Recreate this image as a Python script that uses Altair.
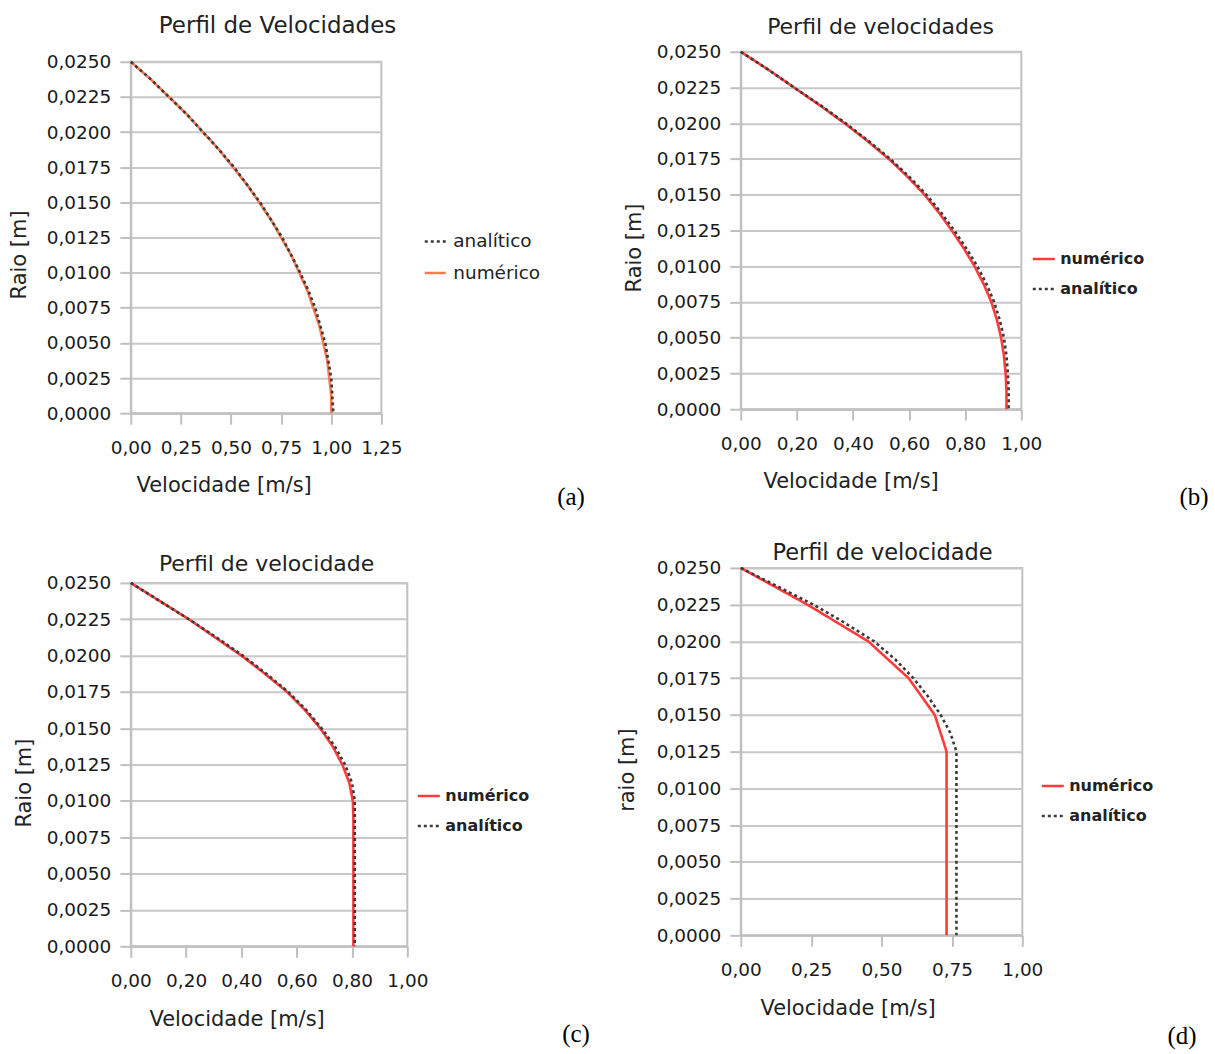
import altair as alt
import pandas as pd

# ---------------- data ----------------
R_FINE = [0.025, 0.02375, 0.0225, 0.02125, 0.02, 0.01875, 0.0175, 0.01625, 0.015,
          0.01375, 0.0125, 0.01125, 0.01, 0.00875, 0.0075, 0.00625, 0.005, 0.00375,
          0.0025, 0.00125, 0.0]
R_COARSE = [0.025, 0.0225, 0.02, 0.0175, 0.015, 0.0125, 0.01, 0.0075, 0.005, 0.0025, 0.0]

# (a)
NUM_A = [0.00, 0.10, 0.19, 0.28, 0.36, 0.44, 0.51, 0.58, 0.64, 0.70, 0.75, 0.80, 0.84,
         0.88, 0.91, 0.94, 0.96, 0.98, 0.99, 1.00, 1.00]
ANA_A = [0.00, 0.10, 0.19, 0.28, 0.36, 0.44, 0.515, 0.58, 0.645, 0.70, 0.755, 0.80, 0.845,
         0.885, 0.92, 0.945, 0.97, 0.985, 1.00, 1.005, 1.01]
# (b)
NUM_B = [0.00, 0.098, 0.19, 0.282, 0.37, 0.452, 0.528, 0.595, 0.655, 0.706, 0.752, 0.795, 0.833,
         0.866, 0.893, 0.913, 0.928, 0.938, 0.944, 0.947, 0.947]
ANA_B = [0.00, 0.098, 0.19, 0.285, 0.374, 0.456, 0.533, 0.601, 0.662, 0.714, 0.761, 0.804, 0.843,
         0.876, 0.903, 0.923, 0.938, 0.947, 0.952, 0.955, 0.955]
# (c)
NUM_C = [0.00, 0.105, 0.21, 0.305, 0.40, 0.485, 0.565, 0.63, 0.685, 0.73, 0.765, 0.79, 0.803,
         0.805, 0.805, 0.805, 0.805, 0.805, 0.805, 0.805, 0.805]
ANA_C = [0.00, 0.105, 0.21, 0.31, 0.405, 0.49, 0.57, 0.635, 0.69, 0.738, 0.775, 0.80, 0.81,
         0.81, 0.81, 0.81, 0.81, 0.81, 0.81, 0.81, 0.81]
# (d)
NUM_D = [0.00, 0.237, 0.453, 0.596, 0.689, 0.731, 0.731, 0.731, 0.731, 0.731, 0.731]
ANA_D = [0.00, 0.13, 0.258, 0.37, 0.474, 0.55, 0.613, 0.665, 0.71, 0.745, 0.766, 0.766, 0.766,
         0.766, 0.766, 0.766, 0.766, 0.766, 0.766, 0.766, 0.766]

Y_TICKS = [0.0, 0.0025, 0.005, 0.0075, 0.01, 0.0125, 0.015, 0.0175, 0.02, 0.0225, 0.025]
X_TICKS_025_125 = [0.0, 0.25, 0.5, 0.75, 1.0, 1.25]
X_TICKS_020_100 = [0.0, 0.2, 0.4, 0.6, 0.8, 1.0]
X_TICKS_025_100 = [0.0, 0.25, 0.5, 0.75, 1.0]

NUM = "numérico"
ANA = "analítico"

# ---------------- styles ----------------
FONT = "DejaVu Sans"
GRID = "#c8c8c8"
FRAME = "#c0c0c0"
DASHES = {NUM: [1, 0], ANA: [3, 3]}


def build_df(r_num, v_num, r_ana, v_ana):
    rows = []
    for i, (r, v) in enumerate(zip(r_num, v_num)):
        rows.append({"r": r, "v": v, "serie": NUM, "i": i})
    for i, (r, v) in enumerate(zip(r_ana, v_ana)):
        rows.append({"r": r, "v": v, "serie": ANA, "i": i})
    return pd.DataFrame(rows)


def make_panel(df, p):
    dom = p["order"]
    leg = alt.Legend(
        title=None, orient="none", legendX=p["lx"], legendY=p["ly"],
        symbolType="stroke", symbolSize=p["ssize"], symbolStrokeWidth=2.5,
        labelFont=FONT, labelFontSize=p["lfs"], labelFontWeight=p["lfw"],
        labelColor="#222222", rowPadding=p["rowpad"], labelOffset=p["loff"],
        padding=0, labelLimit=300,
    )
    lines = alt.Chart(df).mark_line(strokeWidth=2.6).encode(
        x=alt.X(
            "v:Q",
            scale=alt.Scale(domain=[0, p["xmax"]], nice=False, zero=True),
            axis=alt.Axis(
                values=p["xticks"],
                labelExpr="replace(format(datum.value, '.2f'), '.', ',')",
                grid=False, title="Velocidade [m/s]",
                titleX=p["xtx"], titleY=p["xty"], titleAlign="center", titleBaseline="middle",
                tickSize=11, tickWidth=2, tickColor=FRAME,
                domainColor=FRAME, domainWidth=2,
                labelPadding=14, labelFlush=False, labelOverlap=False,
                labelFont=FONT, labelFontSize=18.5, labelColor="#1a1a1a",
                titleFont=FONT, titleFontSize=21, titleFontWeight="normal", titleColor="#222222",
            ),
        ),
        y=alt.Y(
            "r:Q",
            scale=alt.Scale(domain=[0, 0.025], nice=False, zero=True),
            axis=alt.Axis(
                values=Y_TICKS,
                labelExpr="replace(format(datum.value, '.4f'), '.', ',')",
                grid=True, gridColor=GRID, gridWidth=2,
                title=p["ytitle"],
                titleX=p["ytx"], titleY=p["yty"], titleAlign="center", titleBaseline="middle",
                titleAngle=270,
                tickSize=11, tickWidth=2, tickColor=FRAME,
                domainColor=FRAME, domainWidth=2,
                labelPadding=9, labelFlush=False, labelOverlap=False,
                labelFont=FONT, labelFontSize=18.5, labelColor="#1a1a1a",
                titleFont=FONT, titleFontSize=21, titleFontWeight="normal", titleColor="#222222",
            ),
        ),
        color=alt.Color("serie:N",
                        scale=alt.Scale(domain=dom, range=[p["colors"][s] for s in dom]),
                        legend=leg),
        strokeDash=alt.StrokeDash("serie:N",
                                  scale=alt.Scale(domain=dom, range=[DASHES[s] for s in dom]),
                                  legend=leg),
        order=alt.Order("i:Q"),
    )
    title = alt.Chart(pd.DataFrame({"t": [p["title"]]})).mark_text(
        font=FONT, fontSize=p["tfs"], align="center", baseline="alphabetic", color="#222222"
    ).encode(text="t:N", x=alt.value(p["tx"]), y=alt.value(p["ty"]))
    tag = alt.Chart(pd.DataFrame({"t": [p["tag"]]})).mark_text(
        font="Liberation Serif", fontSize=25, align="center", baseline="middle", color="#000000"
    ).encode(text="t:N", x=alt.value(p["tagx"]), y=alt.value(p["tagy"]))
    return alt.layer(lines, title, tag).properties(width=p["w"], height=p["h"])


RED = "#ff3b3b"
panel_a = make_panel(build_df(R_FINE, NUM_A, R_FINE, ANA_A), dict(
    order=[ANA, NUM], colors={NUM: "#ff7a50", ANA: "#3a3a3a"},
    lx=293, ly=168, ssize=441, lfs=18.5, lfw="normal", rowpad=9.5, loff=6,
    xmax=1.25, xticks=X_TICKS_025_125, xtx=93, xty=72,
    ytitle="Raio [m]", ytx=-111, yty=193,
    tag="(a)", tagx=441, tagy=436, w=251, h=352,
    title="Perfil de Velocidades", tfs=23, tx=147, ty=-29,
))
panel_b = make_panel(build_df(R_FINE, NUM_B, R_FINE, ANA_B), dict(
    order=[NUM, ANA], colors={NUM: RED, ANA: "#3a3a3a"},
    lx=291, ly=195, ssize=484, lfs=16, lfw="bold", rowpad=9, loff=4,
    xmax=1.0, xticks=X_TICKS_020_100, xtx=110, xty=72,
    ytitle="Raio [m]", ytx=-106, yty=196,
    tag="(b)", tagx=454, tagy=446, w=281, h=358,
    title="Perfil de velocidades", tfs=22, tx=140, ty=-18,
))
panel_c = make_panel(build_df(R_FINE, NUM_C, R_FINE, ANA_C), dict(
    order=[NUM, ANA], colors={NUM: RED, ANA: "#3a3a3a"},
    lx=286, ly=201, ssize=484, lfs=16, lfw="bold", rowpad=9, loff=4,
    xmax=1.0, xticks=X_TICKS_020_100, xtx=106, xty=73,
    ytitle="Raio [m]", ytx=-106, yty=200,
    tag="(c)", tagx=446, tagy=452, w=277, h=364,
    title="Perfil de velocidade", tfs=22, tx=136, ty=-12,
))
panel_d = make_panel(build_df(R_COARSE, NUM_D, R_FINE, ANA_D), dict(
    order=[NUM, ANA], colors={NUM: RED, ANA: "#3a3a3a"},
    lx=300, ly=206, ssize=484, lfs=16, lfw="bold", rowpad=9, loff=4,
    xmax=1.0, xticks=X_TICKS_025_100, xtx=107, xty=73,
    ytitle="raio [m]", ytx=-113, yty=202,
    tag="(d)", tagx=442, tagy=469, w=282, h=368,
    title="Perfil de velocidade", tfs=22.5, tx=142, ty=-8,
))

spacer = alt.Chart(pd.DataFrame({"s": [0]})).mark_point(opacity=0).encode(
    x=alt.value(0), y=alt.value(0)
).properties(width=1, height=10, view=alt.ViewBackground(stroke="transparent"))

RES = dict(x="independent", y="independent", color="independent", strokeDash="independent")

col1_inner = alt.vconcat(panel_a, panel_c, spacing=170, bounds="flush").resolve_scale(**RES)
col1 = alt.vconcat(spacer, col1_inner, spacing=0, bounds="flush").resolve_scale(**RES)
col2 = alt.vconcat(panel_b, panel_d, spacing=159, bounds="flush").resolve_scale(**RES)

chart = alt.hconcat(col1, col2, spacing=611, bounds="flush").resolve_scale(**RES).properties(
    padding={"left": 8, "top": 13, "right": 5, "bottom": 5},
    background="white",
).configure_view(stroke=FRAME, strokeWidth=2)

chart.save("out.html", embed_options={"renderer": "svg", "actions": False})
